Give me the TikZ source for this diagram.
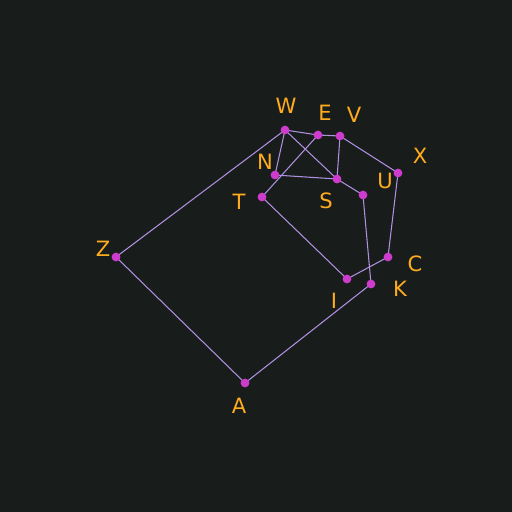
\documentclass[tikz,border=0pt]{standalone}
\usepackage{fontspec}
\setmainfont{DejaVu Sans}
\definecolor{bgdark}{RGB}{24,28,26}
\definecolor{edgecol}{RGB}{175,145,225}
\definecolor{dotcol}{RGB}{205,60,205}
\definecolor{lblcol}{RGB}{255,172,30}
\tikzset{
  edge/.style={draw=edgecol, line width=0.6pt},
  dot/.style={circle, fill=dotcol, inner sep=0pt, minimum size=5pt},
  lbl/.style={text=lblcol, font=\fontsize{12}{14}\selectfont, inner sep=0pt}
}
\begin{document}
\begin{tikzpicture}[x=0.02cm, y=-0.02cm]

    % --- Background ---
    \fill[bgdark] (0,0) rectangle (512,512);

    % --- Points ---
    \foreach \n/\x/\y in {W/285/130, E/318/135, V/340/136, N/275/175,
                          T/262/197, S/337/179, X/398/173, U/363/195,
                          C/388/257, I/347/279, K/371/284, Z/116/257,
                          A/245/383} {
        \coordinate (\n) at (\x,\y);
    }

    % --- Segments ---
    \foreach \a/\b in {Z/W, Z/A, A/K, T/I, I/C, U/K, X/C, V/X,
                       S/U, W/N, W/E, E/V, V/S, N/S, W/S, T/E} {
        \draw[edge] (\a) -- (\b);
    }

    % --- Dots ---
    \foreach \n in {W,E,V,N,T,S,X,U,C,I,K,Z,A} {
        \node[dot] (d\n) at (\n) {};
    }

    % --- Labels ---
    \foreach \n/\x/\y in {W/286/106, E/325/113, V/354/115, N/265/162,
                          T/239/202, S/326/201, X/420/156, U/385/181,
                          C/415/264, K/400/289, I/334/301, Z/103/249,
                          A/239/406} {
        \node[lbl] (l\n) at (\x,\y) {\n};
    }

\end{tikzpicture}
\end{document}
